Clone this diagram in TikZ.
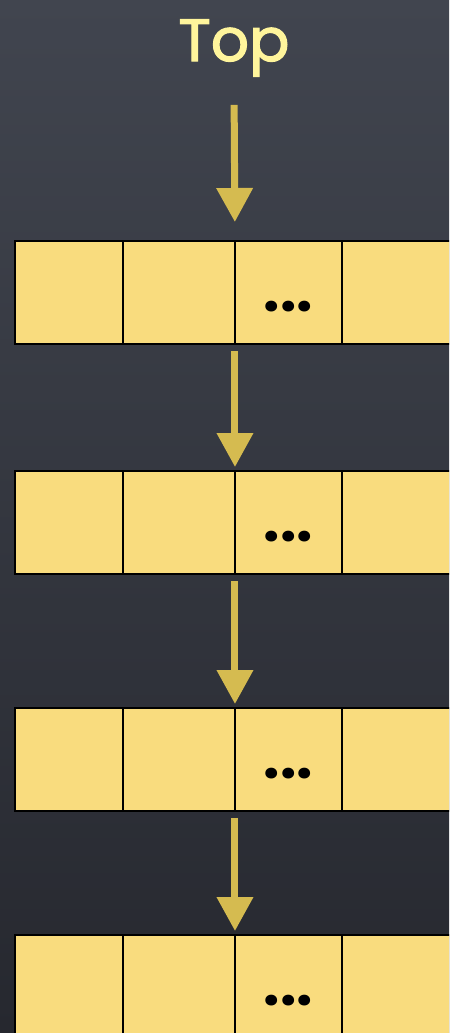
\documentclass[tikz,border=0pt]{standalone}
\usepackage{fontspec}
\newfontfamily\chalkfont{Poppins}
\newfontfamily\labelfont{Poppins}[FakeBold=2]
\usetikzlibrary{arrows.meta}
\definecolor{bgtop}{HTML}{41454F}
\definecolor{bgbot}{HTML}{26282F}
\definecolor{cellfill}{HTML}{F9DC7E}
\definecolor{arrgold}{HTML}{D5BB50}
\definecolor{toptext}{HTML}{FFF59C}

\tikzset{
  cell/.style={draw=black, line width=1.4pt, fill=cellfill, anchor=north west,
    minimum height=2.06cm, inner sep=0pt, outer sep=0pt},
  link/.style={arrgold, line width=0.14cm,
    -{Triangle[width=0.70cm, length=0.68cm]}},
  dots/.style={font=\chalkfont\bfseries\fontsize{33}{33}\selectfont, text=black}
}

\begin{document}
\begin{tikzpicture}[x=0.02cm, y=-0.02cm]
  % background
  \useasboundingbox (0,0) rectangle (449,1033);
  \clip (0,0) rectangle (449,1033);
  \shade[top color=bgtop, bottom color=bgbot] (0,0) rectangle (449,1033);
  % label
  \node[text=toptext, font=\labelfont\fontsize{34}{36}\selectfont] (top) at (234,48) {Top};
  % the four rows of cells
  \foreach \r/\y in {1/241, 2/471, 3/708, 4/935} {
    \node[cell, minimum width=2.16cm] (cell\r-1) at (15,\y) {};
    \node[cell, minimum width=2.24cm] (cell\r-2) at (123,\y) {};
    \node[cell, minimum width=2.14cm] (cell\r-3) at (235,\y) {};
    \node[cell, minimum width=2.30cm] (cell\r-4) at (342,\y) {};
    \node[dots] (dots\r) at ([yshift=-0.28cm]cell\r-3.center) {...};
  }
  % links
  \draw[link, shorten <=0.44cm, shorten >=0.38cm] (top.south) -- (cell1-2.north east);
  \foreach \a/\b in {1/2, 2/3, 3/4}
    \draw[link, shorten <=0.14cm, shorten >=0.08cm] (cell\a-2.south east) -- (cell\b-2.north east);
\end{tikzpicture}
\end{document}
